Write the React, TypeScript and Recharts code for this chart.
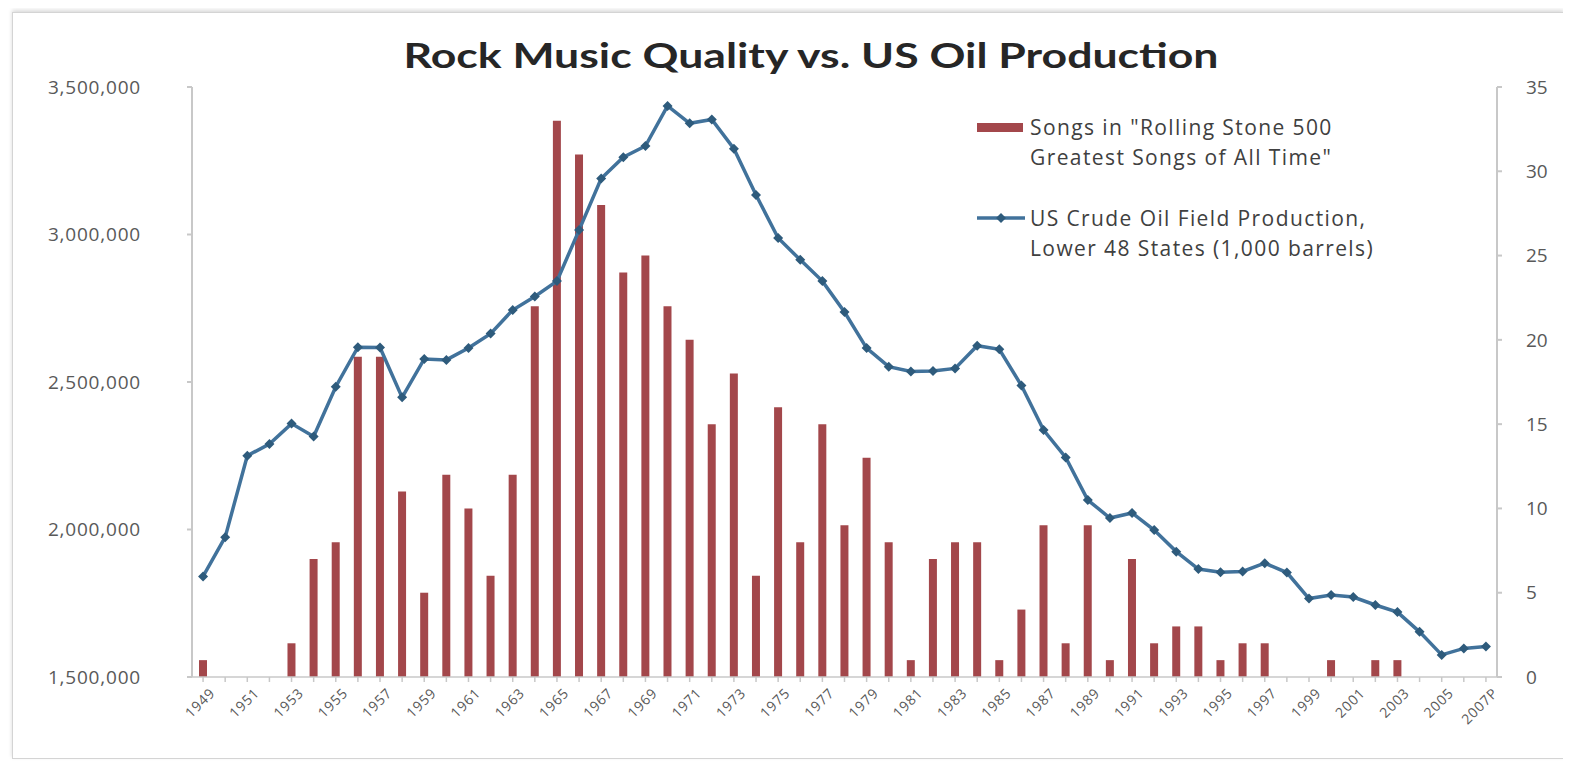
import React from 'react';
import {
  ComposedChart,
  Bar,
  Line,
  XAxis,
  YAxis,
  Legend,
} from 'recharts';

const years = [
  '1949', '1950', '1951', '1952', '1953', '1954', '1955', '1956', '1957', '1958',
  '1959', '1960', '1961', '1962', '1963', '1964', '1965', '1966', '1967', '1968',
  '1969', '1970', '1971', '1972', '1973', '1974', '1975', '1976', '1977', '1978',
  '1979', '1980', '1981', '1982', '1983', '1984', '1985', '1986', '1987', '1988',
  '1989', '1990', '1991', '1992', '1993', '1994', '1995', '1996', '1997', '1998',
  '1999', '2000', '2001', '2002', '2003', '2004', '2005', '2006', '2007P',
];

// songs per year in the Rolling Stone 500 list
const songs = [
  1, 0, 0, 0, 2, 7, 8, 19, 19, 11,
  5, 12, 10, 6, 12, 22, 33, 31, 28, 24,
  25, 22, 20, 15, 18, 6, 16, 8, 15, 9,
  13, 8, 1, 7, 8, 8, 1, 4, 9, 2,
  9, 1, 7, 2, 3, 3, 1, 2, 2, 0,
  0, 1, 0, 1, 1, 0, 0, 0, 0,
];

// lower 48 crude oil field production, 1,000 barrels
const oil = [
  1841000, 1974000, 2250000, 2290000, 2359000, 2315000, 2484000, 2618000, 2617000, 2448000,
  2578000, 2575000, 2615000, 2664000, 2744000, 2790000, 2842000, 3015000, 3190000, 3262000,
  3300000, 3436000, 3377000, 3390000, 3291000, 3134000, 2988000, 2914000, 2842000, 2737000,
  2615000, 2552000, 2536000, 2537000, 2546000, 2623000, 2611000, 2488000, 2337000, 2244000,
  2100000, 2039000, 2056000, 1998000, 1925000, 1866000, 1855000, 1858000, 1886000, 1854000,
  1766000, 1778000, 1771000, 1744000, 1720000, 1653000, 1575000, 1597000, 1603000,
];

const oilTicks = [1500000, 2000000, 2500000, 3000000, 3500000];
const songTicks = [0, 5, 10, 15, 20, 25, 30, 35];

const data = years.map((year, i) => ({ year, songs: songs[i], oil: oil[i] }));

const BAR_COLOR = '#A3474B';
const LINE_COLOR = '#41729B';
const DOT_COLOR = '#2E5B7C';
const TEXT_COLOR = '#595959';
const AXIS_COLOR = '#C8C8C8';
const FONT = '"Open Sans", "Liberation Sans", sans-serif';

// every category gets a tick mark, every other one a label
const YearTick = ({ x, y, payload, index }: any) => {
  if (index % 2 === 1) return <g />;
  return (
    <text
      x={x + 9}
      y={y + 6}
      transform={`rotate(-45, ${x + 9}, ${y + 6})`}
      textAnchor="end"
      dominantBaseline="central"
      fontSize={14}
      letterSpacing={0.8}
      fontFamily={FONT}
      fill={TEXT_COLOR}
    >
      {payload.value}
    </text>
  );
};

const Diamond = (props: any) => {
  const { cx, cy, index } = props;
  if (cx == null || cy == null) return <g key={index} />;
  const r = 5;
  return (
    <path
      key={index}
      d={`M${cx},${cy - r} L${cx + r},${cy} L${cx},${cy + r} L${cx - r},${cy} Z`}
      fill={DOT_COLOR}
    />
  );
};

const legendText: React.CSSProperties = {
  fontFamily: FONT,
  fontSize: 21,
  letterSpacing: 1.4,
  lineHeight: '30px',
  color: '#404040',
  whiteSpace: 'nowrap',
};

const ChartLegend = () => (
  <div style={{ width: 460 }}>
    <div style={{ display: 'flex', alignItems: 'flex-start' }}>
      <div style={{ width: 46, height: 9, marginTop: 11, background: BAR_COLOR, marginRight: 7 }} />
      <div style={legendText}>
        <div>Songs in "Rolling Stone 500</div>
        <div>Greatest Songs of All Time"</div>
      </div>
    </div>
    <div style={{ display: 'flex', alignItems: 'flex-start', marginTop: 31 }}>
      <svg width={48} height={30} style={{ marginRight: 5 }}>
        <line x1={0} y1={15} x2={48} y2={15} stroke={LINE_COLOR} strokeWidth={3.5} />
        <path d="M24,10 L29,15 L24,20 L19,15 Z" fill={DOT_COLOR} />
      </svg>
      <div style={legendText}>
        <div>US Crude Oil Field Production,</div>
        <div>Lower 48 States (1,000 barrels)</div>
      </div>
    </div>
  </div>
);

export default function App() {
  return (
    <div style={{ position: 'relative', width: 1555, height: 762 }}>
      <div
        style={{
          position: 'absolute',
          left: 4,
          top: 4,
          width: 1550,
          height: 745,
          border: '1px solid #d4d4d4',
          boxShadow: '0 -2px 4px rgba(0,0,0,0.15)',
          background: '#fff',
        }}
      />
      <svg
        width={1555}
        height={80}
        style={{ position: 'absolute', left: 0, top: 0 }}
      >
        <text
          x={803}
          y={60}
          textAnchor="middle"
          fontFamily='Lato, "Open Sans", sans-serif'
          fontWeight={700}
          fontSize={35}
          fill="#262626"
          textLength={815}
          lengthAdjust="spacingAndGlyphs"
        >
          Rock Music Quality vs. US Oil Production
        </text>
      </svg>
      <div style={{ position: 'absolute', left: 0, top: 0 }}>
        <ComposedChart
          width={1555}
          height={762}
          data={data}
          margin={{ top: 79, right: 0, bottom: 23, left: 0 }}
        >
          <XAxis
            dataKey="year"
            interval={0}
            height={70}
            tick={<YearTick />}
            tickSize={5}
            tickMargin={2}
            stroke={AXIS_COLOR}
            strokeWidth={1.5}
          />
          <YAxis
            yAxisId="oil"
            orientation="left"
            width={184}
            domain={[1500000, 3500000]}
            ticks={oilTicks}
            tickFormatter={(v: number) => v.toLocaleString('en-US')}
            tick={{ fill: TEXT_COLOR, fontSize: 19, fontFamily: FONT, letterSpacing: 0.8 }}
            tickSize={5}
            tickMargin={46}
            stroke={AXIS_COLOR}
            strokeWidth={2}
          />
          <YAxis
            yAxisId="songs"
            orientation="right"
            width={66}
            domain={[0, 35]}
            ticks={songTicks}
            tick={{ fill: TEXT_COLOR, fontSize: 19, fontFamily: FONT, textAnchor: 'start' }}
            tickSize={5}
            tickMargin={24}
            stroke={AXIS_COLOR}
            strokeWidth={2}
          />
          <Legend
            layout="vertical"
            align="center"
            verticalAlign="middle"
            content={<ChartLegend />}
            wrapperStyle={{ position: 'absolute', left: 969, top: 104, width: 460 }}
          />
          <Bar
            yAxisId="songs"
            dataKey="songs"
            fill={BAR_COLOR}
            barSize={8}
            isAnimationActive={false}
          />
          <Line
            yAxisId="oil"
            dataKey="oil"
            type="linear"
            stroke={LINE_COLOR}
            strokeWidth={3.5}
            dot={Diamond}
            activeDot={false}
            isAnimationActive={false}
          />
        </ComposedChart>
      </div>
    </div>
  );
}
